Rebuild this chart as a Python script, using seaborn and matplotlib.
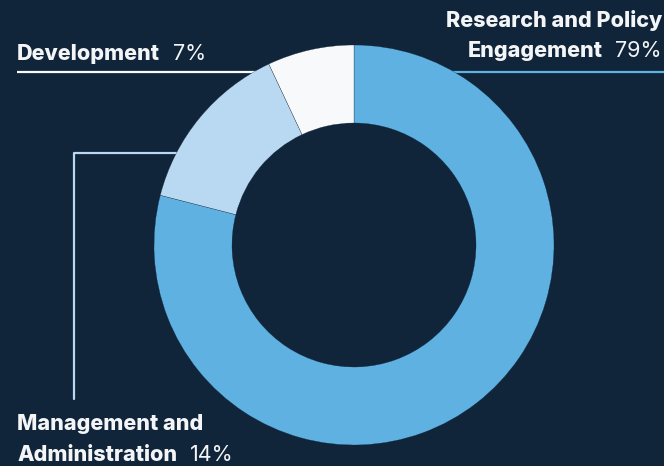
import matplotlib
matplotlib.use("Agg")
import matplotlib.pyplot as plt
import seaborn as sns

categories = ["Research and Policy\nEngagement", "Management and\nAdministration", "Development"]
values = [79, 14, 7]
pct_labels = ["79%", "14%", "7%"]

BG = "#10243a"
colors = ["#5eb1e1", "#b9d9f2", "#f8f9fa"]
TXT = "#f4f5f7"

sns.set_theme(style="white")
plt.rcParams["font.family"] = ["Inter", "DejaVu Sans"]

W, H = 664, 466
fig = plt.figure(figsize=(W / 100, H / 100), dpi=100, facecolor=BG)
ax = fig.add_axes([0, 0, 1, 1])
ax.set_facecolor(BG)

cx, cy, R = 354, H - 245, 200
ax.pie(values, colors=colors, startangle=90, counterclock=False,
       radius=R, center=(cx, cy),
       wedgeprops=dict(width=78, edgecolor=BG, linewidth=0.2), frame=True)
ax.set_xlim(0, W)
ax.set_ylim(0, H)
ax.axis("off")

def Y(y):
    return H - y

# leader lines
ax.plot([17, 256], [Y(72), Y(72)], color=colors[2], lw=1.6, zorder=0, solid_capstyle="butt")
ax.plot([452, 664], [Y(72), Y(72)], color=colors[0], lw=1.6, zorder=0, solid_capstyle="butt")
ax.plot([74, 74, 178], [Y(399), Y(153), Y(153)], color=colors[1], lw=1.6, zorder=0)

FS = 15.5
BW = "heavy"
PW = "normal"
fig.canvas.draw()
rend = fig.canvas.get_renderer()

def width_px(t):
    return t.get_window_extent(renderer=rend).width

def left_label(x, y, bold, pct):
    t1 = ax.text(x, Y(y), bold, fontsize=FS, fontweight=BW, color=TXT,
                 ha="left", va="baseline")
    w = width_px(t1)
    ax.text(x + w + 13, Y(y), pct, fontsize=FS, fontweight=PW, color=TXT,
            ha="left", va="baseline")

def right_label(x, y, bold, pct):
    t2 = ax.text(x, Y(y), pct, fontsize=FS, fontweight=PW, color=TXT,
                 ha="right", va="baseline")
    w = width_px(t2)
    ax.text(x - w - 13, Y(y), bold, fontsize=FS, fontweight=BW, color=TXT,
            ha="right", va="baseline")

# Development
left_label(17, 60, "Development", pct_labels[2])
# Research and Policy Engagement
r1, r2 = categories[0].split("\n")
ax.text(662, Y(27), r1, fontsize=FS, fontweight=BW, color=TXT, ha="right", va="baseline")
right_label(662, 57, r2, pct_labels[0])
# Management and Administration
m1, m2 = categories[1].split("\n")
ax.text(17, Y(430), m1, fontsize=FS, fontweight=BW, color=TXT, ha="left", va="baseline")
left_label(17, 461, m2, pct_labels[1])

fig.savefig("out.png", dpi=100, facecolor=BG)
